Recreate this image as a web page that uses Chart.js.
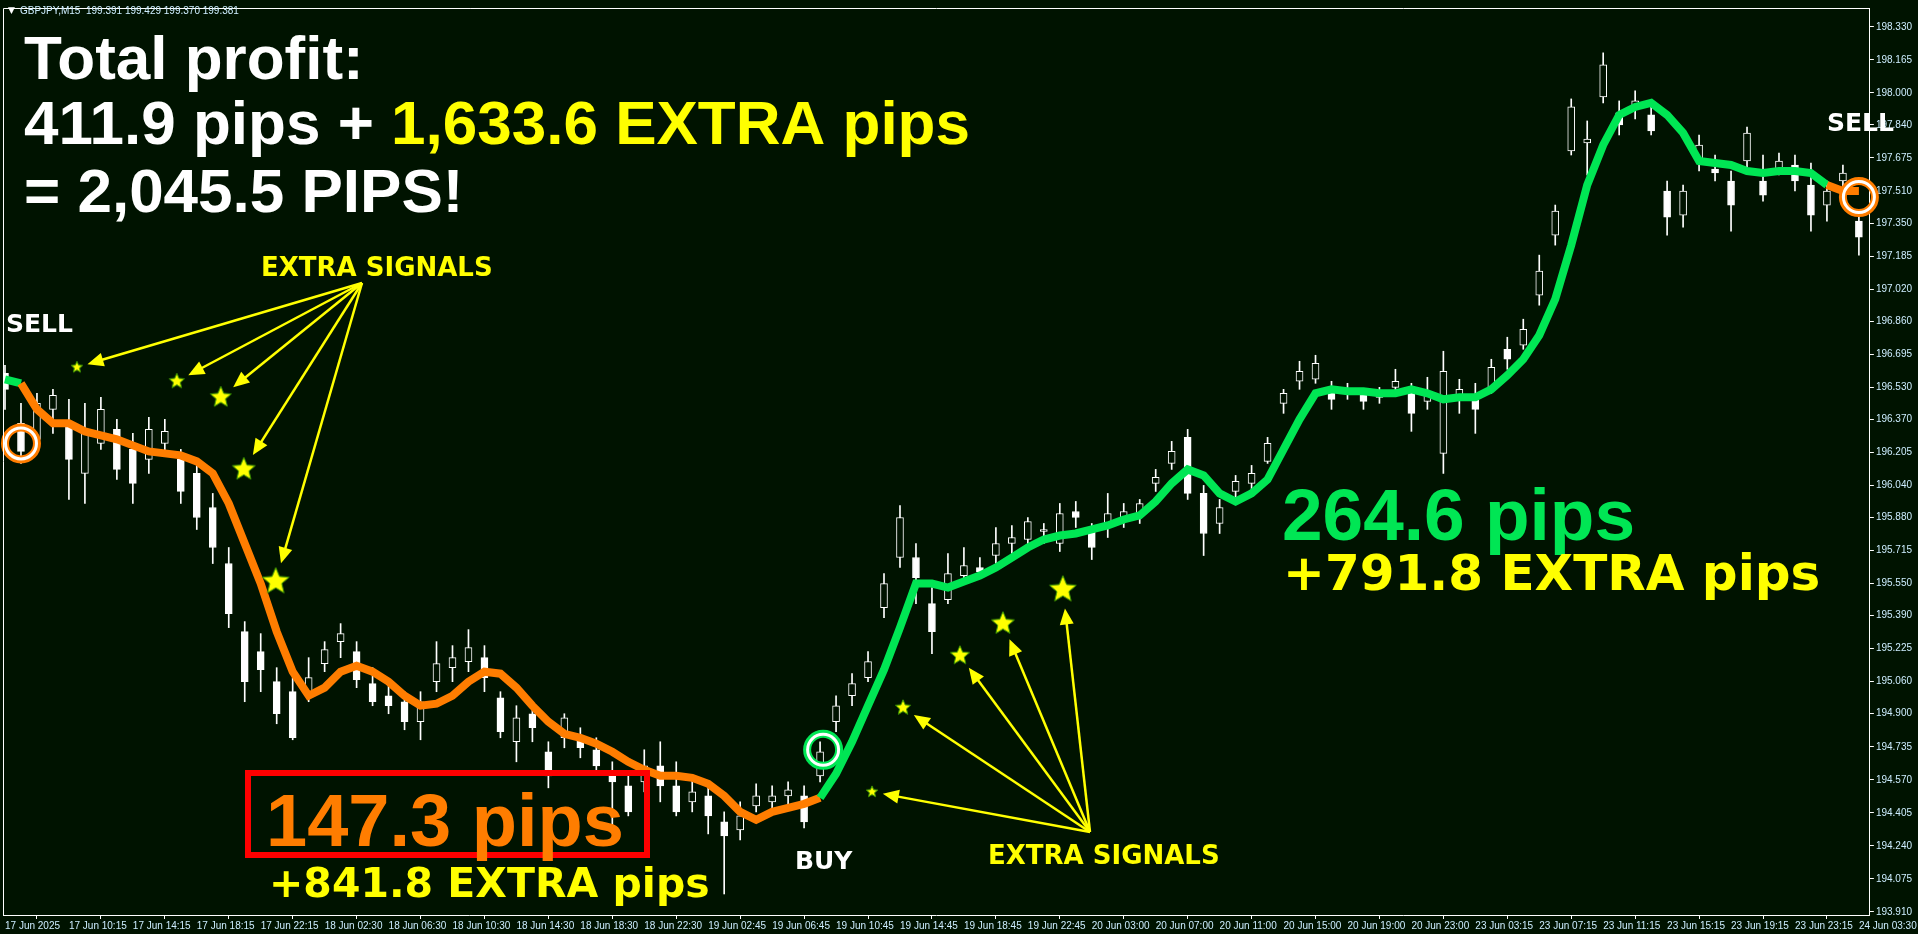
<!DOCTYPE html>
<html>
<head>
<meta charset="utf-8">
<script src="https://cdn.jsdelivr.net/npm/chart.js@4.4.0/dist/chart.umd.min.js"></script>
<style>
  html, body { margin: 0; padding: 0; background: #001300; overflow: hidden; }
  canvas { display: block; }
</style>
</head>
<body>
<canvas id="chart" width="1918" height="934"></canvas>
<script>
// GBPJPY M15, one candle drawn every 4 bars (index k = bar / 4)
const timeLabels = ['17 Jun 2025', '17 Jun 10:15', '17 Jun 14:15', '17 Jun 18:15', '17 Jun 22:15',
  '18 Jun 02:30', '18 Jun 06:30', '18 Jun 10:30', '18 Jun 14:30', '18 Jun 18:30', '18 Jun 22:30',
  '19 Jun 02:45', '19 Jun 06:45', '19 Jun 10:45', '19 Jun 14:45', '19 Jun 18:45', '19 Jun 22:45',
  '20 Jun 03:00', '20 Jun 07:00', '20 Jun 11:00', '20 Jun 15:00', '20 Jun 19:00', '20 Jun 23:00',
  '23 Jun 03:15', '23 Jun 07:15', '23 Jun 11:15', '23 Jun 15:15', '23 Jun 19:15', '23 Jun 23:15',
  '24 Jun 03:30'];
const labelEvery = 4;

const priceTicks = [198.330, 198.165, 198.000, 197.840, 197.675, 197.510, 197.350, 197.185, 197.020,
  196.860, 196.695, 196.530, 196.370, 196.205, 196.040, 195.880, 195.715, 195.550, 195.390, 195.225,
  195.060, 194.900, 194.735, 194.570, 194.405, 194.240, 194.075, 193.910];

const opens = [196.60, 196.35, 196.27, 196.42, 196.35, 196.10, 196.25, 196.32, 196.22, 196.17,
  196.25, 196.17, 196.10, 195.93, 195.65, 195.31, 195.21, 195.06, 195.01, 195.01,
  195.15, 195.26, 195.21, 195.05, 194.99, 194.96, 194.86, 195.06, 195.13, 195.16,
  195.18, 194.98, 194.76, 194.90, 194.71, 194.78, 194.78, 194.72, 194.61, 194.54,
  194.56, 194.64, 194.54, 194.46, 194.49, 194.36, 194.32, 194.44, 194.46, 194.49,
  194.49, 194.59, 194.86, 194.99, 195.08, 195.43, 195.68, 195.68, 195.45, 195.47,
  195.59, 195.63, 195.69, 195.75, 195.77, 195.81, 195.75, 195.91, 195.81, 195.83,
  195.86, 195.89, 196.05, 196.15, 196.28, 196.00, 195.85, 196.01, 196.05, 196.16,
  196.45, 196.56, 196.57, 196.52, 196.51, 196.49, 196.48, 196.53, 196.50, 196.46,
  196.20, 196.47, 196.49, 196.53, 196.72, 196.74, 196.99, 197.29, 197.71, 197.75,
  197.98, 197.90, 197.92, 197.89, 197.51, 197.39, 197.66, 197.62, 197.56, 197.66,
  197.56, 197.62, 197.64, 197.54, 197.44, 197.56, 197.36];
const closes = [196.52, 196.21, 196.45, 196.49, 196.17, 196.30, 196.42, 196.12, 196.05, 196.32,
  196.31, 196.01, 195.88, 195.73, 195.40, 195.06, 195.12, 194.90, 194.78, 195.08,
  195.22, 195.30, 195.07, 194.96, 194.94, 194.86, 194.96, 195.15, 195.18, 195.23,
  195.08, 194.81, 194.88, 194.83, 194.59, 194.88, 194.73, 194.64, 194.56, 194.41,
  194.64, 194.54, 194.41, 194.51, 194.39, 194.29, 194.39, 194.49, 194.49, 194.52,
  194.36, 194.71, 194.94, 195.05, 195.16, 195.55, 195.88, 195.58, 195.31, 195.60,
  195.64, 195.61, 195.75, 195.78, 195.86, 195.82, 195.90, 195.88, 195.73, 195.90,
  195.91, 195.95, 196.08, 196.21, 196.00, 195.80, 195.93, 196.06, 196.10, 196.25,
  196.50, 196.61, 196.65, 196.47, 196.50, 196.46, 196.50, 196.56, 196.40, 196.49,
  196.61, 196.52, 196.42, 196.63, 196.67, 196.82, 197.11, 197.41, 197.93, 197.77,
  198.14, 197.84, 197.96, 197.81, 197.38, 197.51, 197.74, 197.60, 197.44, 197.80,
  197.49, 197.66, 197.56, 197.39, 197.51, 197.60, 197.28];
const highs = [196.64, 196.45, 196.50, 196.52, 196.47, 196.45, 196.48, 196.37, 196.30, 196.38,
  196.37, 196.22, 196.15, 196.00, 195.73, 195.36, 195.30, 195.13, 195.08, 195.18,
  195.26, 195.35, 195.26, 195.13, 195.06, 195.01, 195.01, 195.26, 195.24, 195.32,
  195.24, 195.01, 194.94, 194.96, 194.76, 194.90, 194.83, 194.78, 194.66, 194.59,
  194.72, 194.76, 194.66, 194.59, 194.56, 194.41, 194.46, 194.55, 194.54, 194.56,
  194.54, 194.76, 194.99, 195.10, 195.21, 195.60, 195.94, 195.75, 195.53, 195.70,
  195.73, 195.68, 195.83, 195.84, 195.88, 195.85, 195.95, 195.96, 195.85, 196.00,
  195.95, 195.97, 196.12, 196.26, 196.32, 196.04, 195.97, 196.09, 196.14, 196.28,
  196.52, 196.66, 196.69, 196.56, 196.55, 196.52, 196.53, 196.62, 196.55, 196.58,
  196.71, 196.57, 196.55, 196.67, 196.78, 196.87, 197.19, 197.44, 197.97, 197.86,
  198.20, 197.96, 198.01, 197.95, 197.56, 197.54, 197.79, 197.69, 197.61, 197.83,
  197.69, 197.70, 197.69, 197.65, 197.56, 197.64, 197.41];
const lows = [196.42, 196.15, 196.25, 196.30, 195.97, 195.95, 196.22, 196.07, 195.95, 196.10,
  196.20, 195.95, 195.82, 195.65, 195.33, 194.96, 195.01, 194.85, 194.77, 194.96,
  195.11, 195.18, 195.03, 194.94, 194.90, 194.82, 194.77, 195.01, 195.06, 195.11,
  195.01, 194.78, 194.66, 194.76, 194.53, 194.73, 194.68, 194.60, 194.31, 194.39,
  194.51, 194.46, 194.39, 194.41, 194.30, 194.00, 194.27, 194.41, 194.41, 194.44,
  194.33, 194.56, 194.81, 194.94, 195.06, 195.38, 195.63, 195.45, 195.20, 195.45,
  195.55, 195.58, 195.65, 195.70, 195.73, 195.75, 195.71, 195.83, 195.67, 195.78,
  195.83, 195.85, 196.01, 196.12, 195.97, 195.69, 195.80, 195.97, 196.00, 196.15,
  196.40, 196.52, 196.55, 196.42, 196.47, 196.42, 196.45, 196.51, 196.31, 196.42,
  196.10, 196.40, 196.30, 196.50, 196.62, 196.72, 196.94, 197.24, 197.69, 197.59,
  197.95, 197.79, 197.87, 197.79, 197.29, 197.33, 197.61, 197.56, 197.31, 197.61,
  197.46, 197.59, 197.51, 197.31, 197.36, 197.46, 197.19];

// trend indicator line and where it flips colour
const trendLine = [196.57, 196.55, 196.42, 196.35, 196.35, 196.31, 196.29, 196.27, 196.24, 196.21,
  196.20, 196.19, 196.16, 196.10, 195.95, 195.75, 195.55, 195.31, 195.11, 194.99,
  195.03, 195.11, 195.14, 195.11, 195.06, 194.99, 194.94, 194.95, 194.99, 195.06,
  195.11, 195.10, 195.03, 194.94, 194.86, 194.80, 194.78, 194.75, 194.71, 194.66,
  194.62, 194.59, 194.59, 194.58, 194.55, 194.49, 194.41, 194.37, 194.41, 194.43,
  194.45, 194.48, 194.60, 194.76, 194.94, 195.12, 195.33, 195.55, 195.55, 195.53,
  195.56, 195.59, 195.63, 195.68, 195.73, 195.77, 195.79, 195.80, 195.82, 195.84,
  195.87, 195.89, 195.96, 196.05, 196.12, 196.09, 196.00, 195.96, 196.00, 196.07,
  196.22, 196.37, 196.50, 196.52, 196.51, 196.51, 196.50, 196.50, 196.52, 196.50,
  196.47, 196.48, 196.48, 196.52, 196.59, 196.67, 196.79, 196.97, 197.24, 197.54,
  197.74, 197.89, 197.93, 197.95, 197.89, 197.80, 197.66, 197.65, 197.64, 197.61,
  197.60, 197.61, 197.61, 197.60, 197.54, 197.51, 197.51];
const trendFlips = [1, 51, 114];   // up -> down -> up -> down

// entry signals (circles)
const signalX = [1, 51.19, 116];
const signalY = [196.25, 194.72, 197.48];
const signalSide = ['sell', 'buy', 'sell'];

// extra signal stars
const starX = [4.5, 10.75, 13.5, 14.94, 16.94, 54.25, 56.19, 59.75, 62.44, 66.19];
const starY = [196.63, 196.56, 196.48, 196.12, 195.56, 194.51, 194.93, 195.19, 195.35, 195.52];
const starSize = [6, 8, 11, 12, 14, 6, 8, 10, 12, 14];
const starGroup = [0, 0, 0, 0, 0, 1, 1, 1, 1, 1];

const BG = '#001300';
const ORANGE = '#ff7d00';
const GREEN = '#00e654';
const YELLOW = '#ffff00';
const AXIS_TEXT = '#cdeeff';
const AXIS_FONT = { family: 'Liberation Sans', size: 10 };

function trendUp(i) {
  let up = true;
  trendFlips.forEach(f => { if (i >= f) up = !up; });
  return up;
}

function starImage(r) {
  const c = document.createElement('canvas');
  const s = Math.ceil(r * 2 + 4);
  c.width = s; c.height = s;
  const g = c.getContext('2d');
  g.beginPath();
  for (let i = 0; i < 10; i++) {
    const a = -Math.PI / 2 + i * Math.PI / 5;
    const rr = i % 2 ? r * 0.45 : r;
    g.lineTo(s / 2 + rr * Math.cos(a), s / 2 + rr * Math.sin(a));
  }
  g.closePath();
  g.fillStyle = YELLOW;
  g.fill();
  g.strokeStyle = '#3c9a00';
  g.lineWidth = 1;
  g.stroke();
  return c;
}
const starImgs = starSize.map(starImage);

const ks = opens.map((_, k) => k);

const overlay = {
  id: 'overlay',
  afterDraw(chart) {
    const { ctx, chartArea: a, scales } = chart;
    ctx.save();
    // frame
    ctx.strokeStyle = '#ffffff';
    ctx.lineWidth = 1;
    ctx.beginPath();
    ctx.moveTo(a.left + 0.5, a.bottom);
    ctx.lineTo(a.left + 0.5, a.top + 0.5);
    ctx.lineTo(a.right, a.top + 0.5);
    ctx.stroke();

    // header
    ctx.textBaseline = 'middle';
    ctx.fillStyle = '#ffffff';
    ctx.font = '9px "DejaVu Sans"';
    ctx.fillText('\u25BC', 8, 11);
    ctx.fillStyle = AXIS_TEXT;
    ctx.font = '10px "Liberation Sans"';
    ctx.fillText('GBPJPY,M15  199.391 199.429 199.370 199.381', 20, 11);

    // arrows towards the extra signal stars
    const origins = [[362, 283], [1090, 832]];
    ctx.strokeStyle = YELLOW;
    ctx.fillStyle = YELLOW;
    ctx.lineWidth = 2.5;
    starX.forEach((sx, i) => {
      const px = scales.x.getPixelForValue(sx);
      const py = scales.y.getPixelForValue(starY[i]);
      const [ox, oy] = origins[starGroup[i]];
      const dx = ox - px, dy = oy - py;
      const len = Math.hypot(dx, dy);
      const ux = dx / len, uy = dy / len;
      const tx = px + ux * (starSize[i] + 5), ty = py + uy * (starSize[i] + 5);
      ctx.beginPath();
      ctx.moveTo(ox, oy);
      ctx.lineTo(tx + ux * 10, ty + uy * 10);
      ctx.stroke();
      ctx.beginPath();
      ctx.moveTo(tx, ty);
      ctx.lineTo(tx + ux * 16 - uy * 7, ty + uy * 16 + ux * 7);
      ctx.lineTo(tx + ux * 16 + uy * 7, ty + uy * 16 - ux * 7);
      ctx.closePath();
      ctx.fill();
    });

    // labels
    ctx.textBaseline = 'alphabetic';
    ctx.font = 'bold 26px "DejaVu Sans"';
    ctx.fillStyle = YELLOW;
    ctx.fillText('EXTRA SIGNALS', 261, 276);
    ctx.fillText('EXTRA SIGNALS', 988, 864);
    ctx.font = 'bold 25px "DejaVu Sans"';
    ctx.fillStyle = '#ffffff';
    ctx.fillText('SELL', 6, 332);
    ctx.fillText('SELL', 1827, 131);
    ctx.fillText('BUY', 795, 869);

    // profit summary
    ctx.font = 'bold 62px "Liberation Sans"';
    ctx.fillStyle = '#ffffff';
    ctx.fillText('Total profit:', 24, 79);
    const p1 = '411.9 pips + ';
    ctx.fillText(p1, 24, 144);
    ctx.fillStyle = YELLOW;
    ctx.fillText('1,633.6 EXTRA pips', 24 + ctx.measureText(p1).width, 144);
    ctx.fillStyle = '#ffffff';
    ctx.fillText('= 2,045.5 PIPS!', 24, 212);

    // sell result
    ctx.strokeStyle = '#ff0000';
    ctx.lineWidth = 6;
    ctx.strokeRect(248, 773, 399, 82);
    ctx.font = 'bold 74px "Liberation Sans"';
    ctx.fillStyle = ORANGE;
    ctx.fillText('147.3 pips', 266, 846);
    ctx.font = 'bold 41px "DejaVu Sans"';
    ctx.fillStyle = YELLOW;
    ctx.fillText('+841.8 EXTRA pips', 269, 897);

    // buy result
    ctx.font = 'bold 73px "Liberation Sans"';
    ctx.fillStyle = GREEN;
    ctx.fillText('264.6 pips', 1282, 540);
    ctx.font = 'bold 50px "DejaVu Sans"';
    ctx.fillStyle = YELLOW;
    ctx.fillText('+791.8 EXTRA pips', 1283, 590);
    ctx.restore();
  }
};

new Chart(document.getElementById('chart'), {
  type: 'bar',
  data: {
    datasets: [
      {
        label: 'wick',
        data: ks.map(k => ({ x: k, y: [lows[k], highs[k]] })),
        backgroundColor: '#ffffff',
        barThickness: 1,
        grouped: false,
        order: 4
      },
      {
        label: 'body',
        data: ks.map(k => ({ x: k, y: [opens[k], closes[k]] })),
        backgroundColor: ks.map(k => closes[k] > opens[k] ? BG : '#ffffff'),
        borderColor: '#ffffff',
        borderWidth: 1,
        borderSkipped: false,
        minBarLength: 1,
        barThickness: 7,
        grouped: false,
        order: 3
      },
      {
        type: 'line',
        label: 'trend',
        data: ks.map(k => ({ x: k, y: trendLine[k] })),
        borderWidth: 8,
        pointRadius: 0,
        tension: 0,
        segment: { borderColor: c => trendUp(c.p0DataIndex) ? GREEN : ORANGE },
        order: 2
      },
      {
        type: 'scatter',
        label: 'signal',
        data: signalX.map((x, i) => ({ x, y: signalY[i] })),
        pointStyle: 'circle',
        pointRadius: 16,
        borderWidth: 8,
        backgroundColor: 'rgba(0,0,0,0)',
        borderColor: signalSide.map(s => s === 'buy' ? GREEN : ORANGE),
        clip: false,
        order: 1
      },
      {
        type: 'scatter',
        label: 'signal ring',
        data: signalX.map((x, i) => ({ x, y: signalY[i] })),
        pointStyle: 'circle',
        pointRadius: 15.5,
        borderWidth: 3,
        backgroundColor: 'rgba(0,0,0,0)',
        borderColor: '#ffffff',
        clip: false,
        order: 0
      },
      {
        type: 'scatter',
        label: 'extra',
        data: starX.map((x, i) => ({ x, y: starY[i] })),
        pointStyle: c => starImgs[c.dataIndex],
        clip: false,
        order: 0
      }
    ]
  },
  options: {
    responsive: false,
    animation: false,
    events: [],
    layout: { autoPadding: false, padding: { left: 3, top: 2, right: 0, bottom: 0 } },
    plugins: { legend: { display: false }, tooltip: { enabled: false } },
    scales: {
      x: {
        type: 'linear',
        min: -0.125,
        max: 116.6875,
        offset: false,
        afterBuildTicks: s => { s.ticks = timeLabels.map((_, i) => ({ value: i * labelEvery })); },
        afterFit: s => { s.height = 19; },
        ticks: {
          autoSkip: false,
          maxRotation: 0,
          align: 'start',
          padding: 1,
          color: AXIS_TEXT,
          font: AXIS_FONT,
          callback: v => timeLabels[Math.round(v / labelEvery)]
        },
        grid: { drawOnChartArea: false, drawTicks: true, tickLength: 4, color: '#ffffff' },
        border: { color: '#ffffff' }
      },
      y: {
        position: 'right',
        min: 193.895,
        max: 198.424,
        afterBuildTicks: s => { s.ticks = priceTicks.map(v => ({ value: v })); },
        afterFit: s => { s.width = 46; },
        ticks: {
          autoSkip: false,
          padding: 2,
          color: AXIS_TEXT,
          font: AXIS_FONT,
          callback: v => v.toFixed(3)
        },
        grid: { drawOnChartArea: false, drawTicks: true, tickLength: 4, color: '#ffffff' },
        border: { color: '#ffffff' }
      }
    }
  },
  plugins: [overlay]
});
</script>
</body>
</html>
